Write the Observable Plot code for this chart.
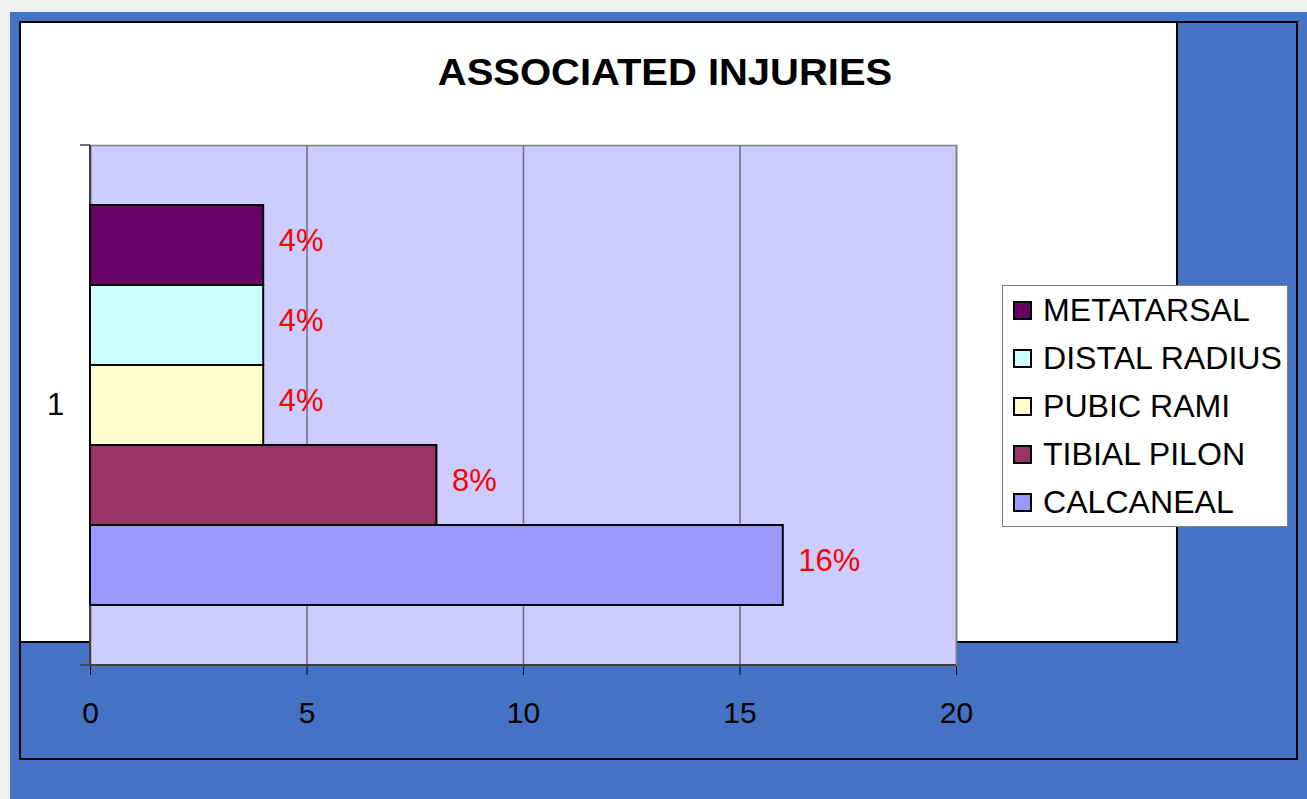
<!DOCTYPE html>
<html><head><meta charset="utf-8">
<script src="https://cdn.jsdelivr.net/npm/d3@7"></script>
<script src="https://cdn.jsdelivr.net/npm/@observablehq/plot@0.6"></script>
<style>
html,body{margin:0;padding:0;background:#f0f0f0;}
#wrap{position:relative;width:1307px;height:799px;overflow:hidden;font-family:"Liberation Sans",Arial,sans-serif;}
.blue{position:absolute;left:10px;top:12px;width:1297px;height:787px;background:#4472C4;}
.outer{position:absolute;left:19px;top:21px;width:1279px;height:739px;border:2px solid #000;box-sizing:border-box;}
.white{position:absolute;left:19px;top:21px;width:1159px;height:622px;border:2px solid #000;box-sizing:border-box;background:#fff;}
.title{position:absolute;left:365px;top:55px;width:600px;text-align:center;font-weight:bold;font-size:36px;line-height:36px;color:#000;transform:scaleX(1.11);transform-origin:300px 0;}
#chart{position:absolute;left:0;top:0;}
.legend{position:absolute;left:1002px;top:285px;width:286px;height:242px;border:1.5px solid #808080;box-sizing:border-box;background:#fff;}
.lrow{position:absolute;left:0;height:48px;width:100%;}
.sw{position:absolute;left:10px;top:14px;width:19px;height:19px;border:2px solid #000;box-sizing:border-box;}
.lt{position:absolute;left:40px;top:0;line-height:48px;font-size:31px;color:#000;white-space:nowrap;transform:scaleX(1.035);transform-origin:0 0;}
</style></head>
<body>
<div id="wrap">
  <div class="blue"></div>
  <div class="outer"></div>
  <div class="white"></div>
  <div class="title">ASSOCIATED INJURIES</div>
  <div id="chart"></div>
  <div class="legend" id="legend"></div>
</div>
<script>
const categories = ["METATARSAL", "DISTAL RADIUS", "PUBIC RAMI", "TIBIAL PILON", "CALCANEAL"];
const values = [4, 4, 4, 8, 16];
const valueLabels = ["4%", "4%", "4%", "8%", "16%"];
const colors = ["#660066", "#CCFFFF", "#FFFFCC", "#993366", "#9999FF"];
const xTicks = [0, 5, 10, 15, 20];
const groupLabels = ["1"];

const data = categories.map((c, i) => ({name: c, value: values[i], label: valueLabels[i]}));

function axisLines(index, scales, values, dim) {
  const g = d3.create("svg:g");
  const x0 = dim.marginLeft, x1 = dim.width - dim.marginRight;
  const y0 = dim.marginTop, y1 = dim.height - dim.marginBottom;
  g.append("line").attr("x1", x0).attr("x2", x0).attr("y1", y0).attr("y2", y1)
    .attr("stroke", "#404040").attr("stroke-width", 2);
  g.append("line").attr("x1", x0).attr("x2", x1).attr("y1", y1).attr("y2", y1)
    .attr("stroke", "#404040").attr("stroke-width", 2);
  for (const y of [y0, y1]) {
    g.append("line").attr("x1", x0 - 10).attr("x2", x0).attr("y1", y).attr("y2", y)
      .attr("stroke", "#404040").attr("stroke-width", 1.5);
  }
  return g.node();
}

const chart = Plot.plot({
  width: 1307,
  height: 799,
  marginLeft: 90,
  marginRight: 351,
  marginTop: 145,
  marginBottom: 134,
  style: {background: "transparent", fontFamily: "Liberation Sans, Arial, sans-serif", fontSize: "30px", color: "#000", overflow: "visible"},
  x: {domain: [0, 20], ticks: xTicks, tickSize: 10, tickPadding: 26, label: null, tickFormat: d => String(d)},
  y: {domain: categories, paddingInner: 0, paddingOuter: 0.75, axis: null},
  color: {domain: categories, range: colors},
  marks: [
    Plot.frame({fill: "#CCCCFF", stroke: null}),
    Plot.ruleX(xTicks, {stroke: "#6a6a7a", strokeWidth: 1.5}),
    Plot.frame({stroke: "#808080", strokeWidth: 1.5}),
    axisLines,
    Plot.barX(data, {x: "value", y: "name", fill: "name", stroke: "#000", strokeWidth: 2}),
    Plot.text(data, {x: "value", y: "name", text: "label", textAnchor: "start", dx: 15, dy: -4, fill: "#FF0000", fontSize: 31}),
    Plot.text(groupLabels, {frameAnchor: "left", text: d => d, dx: -35, textAnchor: "middle", fontSize: 31, fill: "#000"})
  ]
});
document.getElementById("chart").appendChild(chart);

const legend = d3.select("#legend");
categories.forEach((c, i) => {
  const row = legend.append("div").attr("class", "lrow").style("top", (1 + 48 * i) + "px");
  row.append("div").attr("class", "sw").style("background", colors[i]);
  row.append("div").attr("class", "lt").text(c);
});
</script>
</body></html>
